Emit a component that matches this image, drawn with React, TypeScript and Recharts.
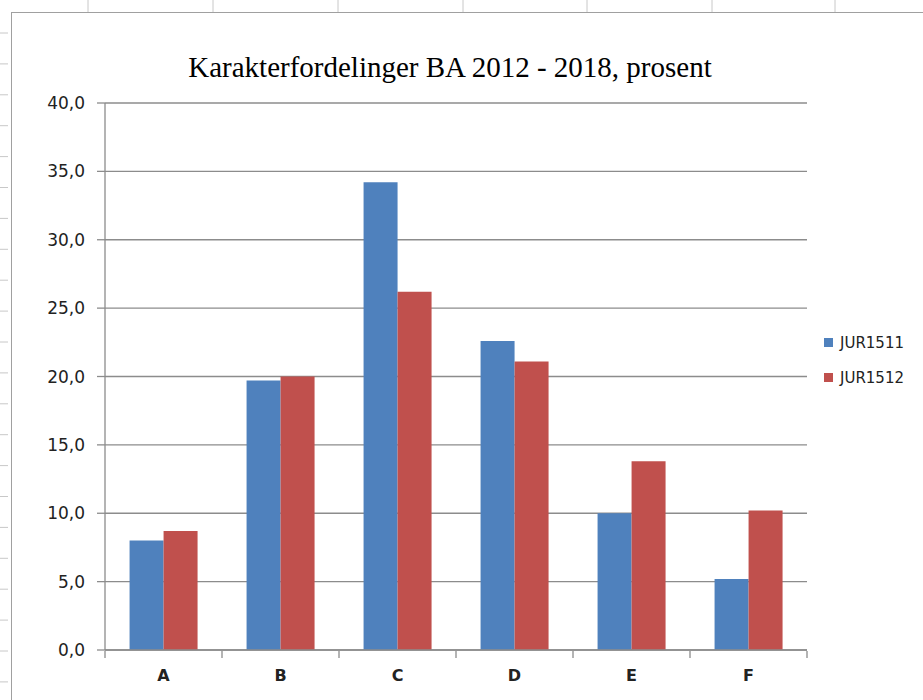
import { BarChart, Bar, XAxis, YAxis, CartesianGrid, Legend } from "recharts";

const categories = ["A", "B", "C", "D", "E", "F"];
const jur1511 = [8.0, 19.7, 34.2, 22.6, 10.0, 5.2];
const jur1512 = [8.7, 20.0, 26.2, 21.1, 13.8, 10.2];
const yTicks = [0, 5, 10, 15, 20, 25, 30, 35, 40];
const seriesNames = ["JUR1511", "JUR1512"];
const seriesColors = ["#4F81BD", "#C0504D"];

const data = categories.map((c, i) => ({
    grade: c,
    JUR1511: jur1511[i],
    JUR1512: jur1512[i],
}));

const axisGray = "#8c8c8c";
const sheetGray = "#c8c8c8";

// category label + excel-style tick marks at the band edges
const CategoryTick = (props: any) => {
    const { x, y, payload, index } = props;
    const half = payload?.offset ?? 58.5;
    const isLast = index === categories.length - 1;
    return (
        <g>
            <line x1={x - half} y1={y - 7} x2={x - half} y2={y} stroke={axisGray} strokeWidth={1.3} />
            {isLast && <line x1={x + half} y1={y - 7} x2={x + half} y2={y} stroke={axisGray} strokeWidth={1.3} />}
            <text x={x} y={y + 12} dy="0.71em" textAnchor="middle" fontFamily="DejaVu Sans" fontWeight="bold" fontSize={16} fill="#222">
                {payload.value}
            </text>
        </g>
    );
};

const LegendBox = () => (
    <div style={{ fontFamily: "DejaVu Sans", fontSize: 15, color: "#222" }}>
        {seriesNames.map((n, i) => (
            <div key={n} style={{ display: "flex", alignItems: "center", height: 35 }}>
                <span style={{ width: 9, height: 9, background: seriesColors[i], marginRight: 7, display: "inline-block" }} />
                <span>{n}</span>
            </div>
        ))}
    </div>
);

export default function App() {
    const colTicks = [88, 213, 338, 463, 587, 712, 835];
    const rowTicks = Array.from({ length: 22 }, (_, i) => 33 + i * 30.9);

    return (
        <div style={{ position: "absolute", left: 0, top: 0, width: 923, height: 700, background: "#fff", overflow: "hidden" }}>
            {/* spreadsheet frame behind the chart */}
            <svg width={923} height={700} style={{ position: "absolute", left: 0, top: 0 }}>
                {colTicks.map((x) => (
                    <line key={x} x1={x} y1={0} x2={x} y2={12} stroke={sheetGray} />
                ))}
                {rowTicks.map((y) => (
                    <line key={y} x1={0} y1={y} x2={8} y2={y} stroke={sheetGray} />
                ))}
                <line x1={11} y1={12.5} x2={923} y2={12.5} stroke="#a0a0a0" />
                <line x1={11.5} y1={12} x2={11.5} y2={700} stroke="#a0a0a0" />
            </svg>

            <div style={{
                position: "absolute", left: 0, top: 50, width: 900, textAlign: "center",
                fontFamily: "Liberation Serif", fontSize: 29, color: "#000", lineHeight: "34px"
            }}>
                Karakterfordelinger BA 2012 - 2018, prosent
            </div>

            <div style={{ position: "absolute", left: 0, top: 0 }}>
                <BarChart
                    width={923}
                    height={700}
                    data={data}
                    margin={{ top: 103, right: 17, bottom: 0, left: 0 }}
                    barCategoryGap="21%"
                    barGap={0}
                >
                    <CartesianGrid vertical={false} stroke={axisGray} strokeWidth={1.3} />
                    <XAxis
                        dataKey="grade"
                        height={50}
                        tickLine={false}
                        axisLine={{ stroke: axisGray, strokeWidth: 1.3 }}
                        tick={<CategoryTick />}
                        interval={0}
                    />
                    <YAxis
                        width={105}
                        domain={[0, 40]}
                        ticks={yTicks}
                        tickFormatter={(v) => v.toFixed(1).replace(".", ",")}
                        tickSize={8}
                        tickMargin={12}
                        axisLine={{ stroke: axisGray, strokeWidth: 1.3 }}
                        tickLine={{ stroke: axisGray, strokeWidth: 1.3 }}
                        tick={{ fontFamily: "DejaVu Sans", fontSize: 17, fill: "#222" }}
                    />
                    <Legend
                        layout="vertical"
                        align="right"
                        verticalAlign="top"
                        content={<LegendBox />}
                        wrapperStyle={{ left: 824, top: 325, width: 99 }}
                    />
                    <Bar dataKey="JUR1511" name="JUR1511" fill={seriesColors[0]} isAnimationActive={false} />
                    <Bar dataKey="JUR1512" name="JUR1512" fill={seriesColors[1]} isAnimationActive={false} />
                </BarChart>
            </div>
        </div>
    );
}
